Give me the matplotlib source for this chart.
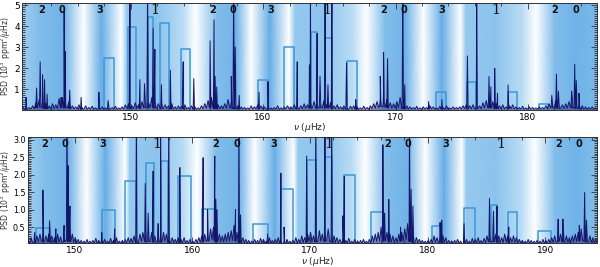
import numpy as np
import matplotlib
matplotlib.use("Agg")
import matplotlib.pyplot as plt
from matplotlib.colors import LinearSegmentedColormap
from matplotlib.ticker import MultipleLocator, FixedLocator

# ---------------- data: top panel ----------------
top_noise_start = 141.85
noise_step = 0.25
top_noise = [
    0.15, 0.3, 0.12, 0.2, 0.35, 0.5, 0.45, 0.3, 0.2, 0.3, 0.25, 0.55,
    0.6, 0.35, 0.4, 0.2, 0.15, 0.25, 0.1, 0.2, 0.12, 0.18, 0.1, 0.25,
    0.15, 0.1, 0.2, 0.12, 0.18, 0.1, 0.15, 0.25, 0.3, 0.2, 0.35, 0.25,
    0.4, 0.5, 0.35, 0.6, 0.45, 0.3, 0.35, 0.25, 0.2, 0.3, 0.15, 0.2,
    0.18, 0.25, 0.12, 0.2, 0.15, 0.1, 0.2, 0.3, 0.45, 0.6, 0.4, 0.25,
    0.2, 0.3, 0.5, 0.45, 0.3, 0.2, 0.15, 0.12, 0.1, 0.2, 0.15, 0.25,
    0.2, 0.15, 0.18, 0.1, 0.12, 0.2, 0.1, 0.15, 0.2, 0.15, 0.25, 0.18,
    0.2, 0.3, 0.25, 0.35, 0.4, 0.3, 0.35, 0.45, 0.3, 0.35, 0.2, 0.25,
    0.15, 0.2, 0.12, 0.18, 0.2, 0.15, 0.1, 0.18, 0.12, 0.2, 0.3, 0.4,
    0.55, 0.7, 0.5, 0.35, 0.3, 0.4, 0.6, 0.35, 0.2, 0.15, 0.12, 0.18,
    0.1, 0.15, 0.12, 0.2, 0.15, 0.1, 0.18, 0.12, 0.2, 0.1, 0.15, 0.12,
    0.15, 0.2, 0.25, 0.2, 0.25, 0.3, 0.2, 0.35, 0.45, 0.35, 0.4, 0.3,
    0.2, 0.25, 0.15, 0.2, 0.25, 0.15, 0.12, 0.18, 0.1, 0.15, 0.12, 0.1,
    0.15, 0.12, 0.2, 0.3, 0.35, 0.45, 0.3, 0.25, 0.3, 0.4, 0.55, 0.35,
    0.3, 0.2, 0.15, 0.12, 0.15, 0.1,
]
top_peak_f = [
    149.95, 151.28, 157.78, 163.58, 164.68, 165.2, 170.55, 176.13,
    142.1, 142.9, 143.17, 143.35, 143.5, 143.7, 144.75, 144.98, 145.05, 145.4,
    146.26, 147.6, 148.3, 150.7, 151.05, 151.7, 151.83, 152.33, 153.0, 153.97,
    154.77, 156.0, 156.3, 156.38, 156.5, 157.6, 157.9, 158.2, 159.7, 160.37,
    162.58, 163.5, 164.08, 164.3, 164.9, 166.3, 167.0, 168.85, 169.1, 169.4,
    170.7, 172.5, 173.5, 175.43, 177.06, 177.2, 177.49, 177.7, 178.5, 181.8,
    182.15, 182.3, 183.3, 183.53, 183.65, 183.85,
]
top_peak_h = [
    6.0, 6.0, 6.0, 6.0, 6.0, 6.0, 6.0, 6.0,
    0.6, 1.05, 2.3, 1.68, 1.45, 0.75, 0.6, 4.7, 2.8, 0.95,
    0.6, 0.85, 0.45, 1.45, 1.25, 3.9, 2.9, 1.2, 1.9, 2.3,
    1.5, 3.3, 4.3, 1.6, 1.1, 1.6, 3.0, 0.7, 0.85, 1.35,
    2.3, 2.15, 3.65, 1.6, 1.2, 2.25, 0.5, 1.6, 2.75, 2.45,
    1.2, 0.4, 0.5, 2.58, 1.6, 1.1, 1.99, 0.8, 1.2, 0.7,
    1.72, 0.9, 0.9, 2.18, 1.4, 0.8,
]
top_box_left = [148.0, 149.77, 151.3, 152.2, 153.8, 159.6, 161.6, 163.6, 164.7,
                166.3, 173.07, 175.4, 178.5, 180.8]
top_box_right = [148.76, 150.43, 151.66, 152.86, 154.5, 160.4, 162.3, 164.1, 165.2,
                 167.07, 173.8, 176.08, 179.2, 181.55]
top_box_h = [2.5, 3.95, 4.45, 4.15, 2.9, 1.45, 3.0, 3.72, 3.45,
             2.33, 0.87, 1.35, 0.87, 0.3]
top_mode_f = [143.3, 144.8, 147.7, 151.8, 156.2, 157.7, 160.6, 164.8,
              169.1, 170.6, 173.5, 177.6, 182.0, 183.6]
mode_l = ['2', '0', '3', '1', '2', '0', '3', '1', '2', '0', '3', '1', '2', '0']
top_bg_f = [141.8, 143.0, 145.0, 146.45, 147.8, 149.3, 149.7, 152.0, 154.0, 154.9,
            156.5, 158.0, 159.1, 160.5, 161.95, 162.4, 164.5, 166.8, 167.8, 169.2,
            170.8, 172.1, 173.5, 174.9, 175.3, 177.5, 179.6, 180.6, 182.0, 183.6, 185.2]
top_bg_i = [0.55, 0.7, 0.8, 0.0, 0.85, 0.0, 0.6, 0.65, 0.4, 0.0,
            0.7, 0.8, 0.0, 0.85, 0.0, 0.6, 0.65, 0.4, 0.0, 0.7,
            0.8, 0.0, 0.85, 0.0, 0.6, 0.65, 0.4, 0.0, 0.7, 0.8, 0.75]

# ---------------- data: bottom panel ----------------
bot_noise_start = 146.05
bot_noise = [
    0.12, 0.2, 0.15, 0.25, 0.3, 0.35, 0.25, 0.3, 0.25, 0.2, 0.3, 0.22,
    0.3, 0.45, 0.5, 0.3, 0.2, 0.15, 0.12, 0.1, 0.15, 0.1, 0.12, 0.18,
    0.12, 0.2, 0.15, 0.1, 0.18, 0.12, 0.2, 0.1, 0.12, 0.15, 0.2, 0.18,
    0.25, 0.2, 0.3, 0.35, 0.4, 0.3, 0.35, 0.25, 0.3, 0.25, 0.35, 0.3,
    0.25, 0.2, 0.15, 0.2, 0.15, 0.2, 0.12, 0.15, 0.1, 0.15, 0.2, 0.25,
    0.3, 0.35, 0.45, 0.5, 0.4, 0.3, 0.25, 0.3, 0.35, 0.4, 0.55, 0.35,
    0.3, 0.2, 0.15, 0.12, 0.1, 0.15, 0.12, 0.18, 0.15, 0.1, 0.2, 0.12,
    0.15, 0.2, 0.12, 0.1, 0.15, 0.1, 0.12, 0.2, 0.15, 0.25, 0.2, 0.3,
    0.35, 0.25, 0.3, 0.4, 0.3, 0.35, 0.45, 0.3, 0.25, 0.2, 0.15, 0.2,
    0.12, 0.18, 0.1, 0.15, 0.1, 0.12, 0.15, 0.1, 0.15, 0.25, 0.3, 0.35,
    0.5, 0.45, 0.35, 0.3, 0.25, 0.2, 0.3, 0.35, 0.45, 0.6, 0.4, 0.3,
    0.2, 0.15, 0.12, 0.1, 0.12, 0.15, 0.25, 0.2, 0.3, 0.25, 0.2, 0.12,
    0.1, 0.12, 0.15, 0.1, 0.12, 0.15, 0.1, 0.18, 0.15, 0.2, 0.12, 0.18,
    0.25, 0.3, 0.35, 0.3, 0.25, 0.2, 0.3, 0.25, 0.2, 0.25, 0.2, 0.15,
    0.12, 0.1, 0.15, 0.12, 0.1, 0.12, 0.1, 0.15, 0.12, 0.15, 0.2, 0.25,
    0.35, 0.3, 0.4, 0.25, 0.2, 0.25, 0.3, 0.35, 0.45, 0.4, 0.3, 0.25,
    0.2, 0.15,
]
bot_peak_f = [
    149.35, 155.25, 157.3, 158.0, 163.96, 170.5, 171.28, 171.85, 178.46,
    146.6, 147.3, 147.87, 148.4, 149.1, 149.45, 149.6, 152.3, 153.4, 156.0,
    156.25, 156.67, 157.1, 158.94, 160.92, 161.3, 161.91, 162.0, 162.1, 163.67,
    164.1, 166.4, 167.53, 167.8, 169.72, 172.8, 172.92, 176.2, 176.35, 176.7,
    177.7, 178.6, 178.75, 181.06, 181.2, 183.1, 185.26, 185.6, 185.9, 186.9,
    191.1, 191.5, 192.9, 193.35, 193.5,
]
bot_peak_h = [
    4.0, 4.0, 4.0, 4.0, 4.0, 4.0, 4.0, 4.0, 4.0,
    0.35, 1.56, 0.68, 0.45, 0.55, 2.25, 1.1, 0.35, 0.45, 1.75,
    0.9, 2.1, 0.6, 2.2, 2.48, 1.0, 2.53, 1.3, 1.0, 1.0,
    0.85, 0.3, 2.04, 0.5, 2.53, 0.82, 1.95, 2.85, 0.9, 1.29,
    0.5, 1.58, 1.1, 0.63, 0.7, 0.6, 1.32, 0.95, 1.1, 0.5,
    0.73, 0.73, 0.55, 1.49, 0.7,
]
bot_box_left = [146.74, 152.3, 154.26, 156.1, 157.3, 158.8, 160.8, 165.2, 167.5,
                169.72, 171.28, 172.9, 175.2, 180.36, 183.1, 185.4, 186.8, 189.38]
bot_box_right = [147.87, 153.4, 155.25, 156.72, 157.94, 159.85, 161.9, 166.4, 168.6,
                 170.5, 171.85, 173.8, 176.2, 181.12, 184.07, 185.94, 187.64, 190.45]
bot_box_h = [0.47, 1.0, 1.83, 2.33, 2.4, 1.95, 1.03, 0.6, 1.6,
             2.42, 2.5, 2.0, 0.93, 0.52, 1.04, 1.13, 0.92, 0.4]
bot_mode_f = [147.45, 149.15, 152.4, 157.0, 161.97, 163.76, 166.96, 171.6,
              176.6, 178.3, 181.55, 186.2, 191.1, 192.9]
bot_bg_f = [146.0, 147.5, 149.5, 151.0, 152.6, 154.3, 154.7, 157.0, 159.3, 160.4,
            162.0, 164.0, 165.3, 167.0, 168.6, 169.0, 171.5, 173.6, 174.7, 176.4,
            178.3, 179.8, 181.4, 182.9, 183.3, 185.8, 188.0, 189.1, 190.8, 192.6, 194.4]
bot_bg_i = [0.55, 0.7, 0.8, 0.0, 0.85, 0.0, 0.6, 0.65, 0.4, 0.0,
            0.7, 0.8, 0.0, 0.85, 0.0, 0.6, 0.65, 0.4, 0.0, 0.7,
            0.8, 0.0, 0.85, 0.0, 0.6, 0.65, 0.4, 0.0, 0.7, 0.8, 0.7]

# ---------------- styling ----------------
NAVY = '#15156b'
BOXC = '#3b98d6'
cmap = LinearSegmentedColormap.from_list('bg', ['#ffffff', '#a9d4f3', '#4a9de0'])

fig = plt.figure(figsize=(6.0, 2.67), dpi=100)
ax_top = fig.add_axes([0.0367, 0.588, 0.958, 0.402])
ax_bot = fig.add_axes([0.046, 0.089, 0.949, 0.399])


def build_spectrum(noise_start, noise, pf, ph):
    noise = np.asarray(noise, dtype=float)
    nf = noise_start + noise_step * np.arange(len(noise))
    # jagged noise: each sample is a tiny spike with a trough between samples
    tf = nf + noise_step / 2.0
    tv = 0.3 * np.minimum(noise, np.roll(noise, -1))
    xs = list(nf) + list(tf)
    ys = list(noise) + list(tv)
    hw = 0.05
    for f, h in zip(pf, ph):
        j = int(np.argmin(np.abs(nf - f)))
        base = tv[j]
        xs += [f - hw, f, f + hw]
        ys += [base, h, base]
    order = np.argsort(xs, kind='stable')
    return np.array(xs)[order], np.array(ys)[order], nf, tf, noise, tv


def draw_panel(ax, xlim, ylim, bg_f, bg_i, noise_start, noise, pf, ph,
               bl, br, bh, mode_f, label_y, yticks, yminor, ylabels, ylab_x,
               tick_fs):
    X, Y = np.meshgrid(bg_f, [ylim[0], ylim[1]])
    C = np.vstack([bg_i, bg_i])
    ax.pcolormesh(X, Y, C, shading='gouraud', cmap=cmap, vmin=0, vmax=1, zorder=0)
    for l, r, h in zip(bl, br, bh):
        ax.plot([l, l, r, r], [0, h, h, 0], color=BOXC, lw=1.1, zorder=2)
    sx, sy, nf, tf, nv, tv = build_spectrum(noise_start, noise, pf, ph)
    fx = np.concatenate([nf, tf])
    fy = np.concatenate([nv, tv])
    o = np.argsort(fx)
    ax.fill_between(fx[o], 0, fy[o], color=NAVY, alpha=0.45, lw=0, zorder=2.5)
    ax.plot(sx, sy, color=NAVY, lw=0.7, zorder=3)
    for f, lab in zip(mode_f, mode_l):
        if lab == '1':
            ax.text(f, label_y, lab, ha='center', va='center', fontsize=10.5,
                    family='DejaVu Serif', color='#111111', zorder=4)
        else:
            ax.text(f, label_y, lab, ha='center', va='center', fontsize=7,
                    fontweight='bold', color='#111111', zorder=4)
    ax.set_xlim(*xlim)
    ax.set_ylim(*ylim)
    ax.xaxis.set_major_locator(MultipleLocator(10))
    ax.xaxis.set_minor_locator(MultipleLocator(2))
    ax.yaxis.set_major_locator(FixedLocator(yticks))
    ax.set_yticklabels(ylabels)
    ax.yaxis.set_minor_locator(MultipleLocator(yminor))
    ax.tick_params(which='both', direction='in', top=True, right=True,
                   labelsize=6.5, pad=2, color='#333333', width=0.6)
    ax.tick_params(axis='y', labelsize=tick_fs, pad=1.5)
    ax.tick_params(which='major', length=4)
    ax.tick_params(which='minor', length=2)
    for s in ax.spines.values():
        s.set_linewidth(0.7)
        s.set_color('#333333')
    ax.set_ylabel('PSD (10$^3$ ppm$^2$/$\\mu$Hz)', fontsize=5.6, color='#333333')
    ax.yaxis.set_label_coords(ylab_x, 0.5)
    ax.yaxis.label.set_va('center')
    ax.set_xlabel('$\\nu$ ($\\mu$Hz)', fontsize=6.5, color='#222222')


draw_panel(ax_top, (141.8, 185.2), (0.0, 5.12), top_bg_f, top_bg_i,
           top_noise_start, top_noise, top_peak_f, top_peak_h,
           top_box_left, top_box_right, top_box_h, top_mode_f, 4.75,
           [1, 2, 3, 4, 5], 0.1, ['1', '2', '3', '4', '5'], -0.028, 6.5)
draw_panel(ax_bot, (146.0, 194.4), (0.04, 3.08), bot_bg_f, bot_bg_i,
           bot_noise_start, bot_noise, bot_peak_f, bot_peak_h,
           bot_box_left, bot_box_right, bot_box_h, bot_mode_f, 2.86,
           [0.5, 1.0, 1.5, 2.0, 2.5, 3.0], 0.05,
           ['0.5', '1.0', '1.5', '2.0', '2.5', '3.0'], -0.0385, 5.8)
# x-label positions (centre of text below each panel)
ax_top.xaxis.set_label_coords(0.5, -0.165)
ax_top.xaxis.label.set_va('center')
ax_bot.xaxis.set_label_coords(0.51, -0.17)
ax_bot.xaxis.label.set_va('center')

fig.savefig('out.png', dpi=100)
